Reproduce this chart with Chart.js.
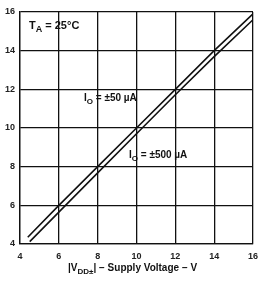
<!DOCTYPE html>
<html>
<head>
<meta charset="utf-8">
<script src="https://cdn.jsdelivr.net/npm/chart.js@4"></script>
<style>
  html, body { margin: 0; padding: 0; background: #fff; }
  #wrap { width: 269px; height: 284px; }
</style>
</head>
<body>
<div id="wrap"><canvas id="c" width="269" height="284"></canvas></div>
<script>
// data
const vddLow = [4.4, 6, 8, 10, 12, 14, 16];
const voLow = [4.35, 6.0, 8.0, 10.0, 12.0, 14.0, 15.9];        // IO = ±50 µA
const vddHigh = [4.5, 6, 8, 10, 12, 14, 16];
const voHigh = [4.12, 5.65, 7.68, 9.7, 11.72, 13.69, 15.6];    // IO = ±500 µA
const xTicks = [4, 6, 8, 10, 12, 14, 16];
const yTicks = [4, 6, 8, 10, 12, 14, 16];

const FONT = '"Liberation Sans", Arial, sans-serif';

// draw text with a subscript part
function subText(ctx, x, y, parts, size, weight) {
    let cx = x;
    parts.forEach(p => {
        const s = p.sub ? size - 2 : size;
        ctx.font = weight + ' ' + s + 'px ' + FONT;
        ctx.fillText(p.t, cx, y + (p.sub ? 3 : 0));
        cx += ctx.measureText(p.t).width;
    });
}

const labels = {
    id: 'labels',
    afterDraw(chart) {
        const ctx = chart.ctx;
        ctx.save();
        ctx.fillStyle = '#111';
        ctx.textBaseline = 'alphabetic';
        ctx.textAlign = 'left';
        subText(ctx, 29, 29, [{t: 'T'}, {t: 'A', sub: true}, {t: ' = 25°C'}], 11, 'bold');
        subText(ctx, 84, 101, [{t: 'I'}, {t: 'O', sub: true}, {t: ' = ±50 µA'}], 10, 'bold');
        subText(ctx, 129, 158, [{t: 'I'}, {t: 'O', sub: true}, {t: ' = ±500 µA'}], 10, 'bold');
        subText(ctx, 68, 271, [{t: '|V'}, {t: 'DD±', sub: true}, {t: '| − Supply Voltage − V'}], 10, 'bold');
        ctx.restore();
    }
};

new Chart(document.getElementById('c'), {
    type: 'scatter',
    data: {
        datasets: [
            {
                data: vddLow.map((v, i) => ({x: v, y: voLow[i]})),
                showLine: true, borderColor: '#111', borderWidth: 1.6,
                pointRadius: 0, tension: 0
            },
            {
                data: vddHigh.map((v, i) => ({x: v, y: voHigh[i]})),
                showLine: true, borderColor: '#111', borderWidth: 1.6,
                pointRadius: 0, tension: 0
            }
        ]
    },
    options: {
        responsive: false,
        animation: false,
        layout: { padding: { top: 12, right: 16, left: 0, bottom: 0 } },
        plugins: { legend: { display: false }, tooltip: { enabled: false } },
        scales: {
            x: {
                type: 'linear', min: 4, max: 16,
                afterBuildTicks: s => { s.ticks = xTicks.map(v => ({value: v})); },
                afterFit: s => { s.height = 40; },
                grid: { color: '#111', lineWidth: 1.3, drawTicks: false },
                border: { color: '#111', width: 1.3 },
                ticks: { color: '#222', padding: 7, font: { family: FONT, size: 9, weight: 'bold' } }
            },
            y: {
                type: 'linear', min: 4, max: 16,
                afterBuildTicks: s => { s.ticks = yTicks.map(v => ({value: v})); },
                afterFit: s => { s.width = 20; },
                grid: { color: '#111', lineWidth: 1.3, drawTicks: false },
                border: { color: '#111', width: 1.3 },
                ticks: { color: '#222', padding: 5, font: { family: FONT, size: 9, weight: 'bold' } }
            }
        }
    },
    plugins: [labels]
});
</script>
</body>
</html>
